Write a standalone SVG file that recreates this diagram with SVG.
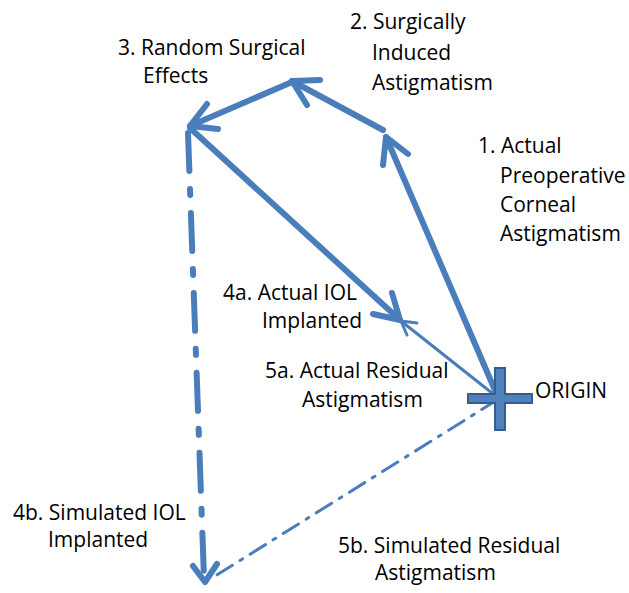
<svg xmlns="http://www.w3.org/2000/svg" width="629" height="593" viewBox="0 0 629 593">
<style>
.t{font-family:"Open Sans","Liberation Sans",sans-serif;font-size:21px;fill:#000}
.thick{stroke:#4a7ebb;stroke-width:6;fill:none;stroke-linecap:round;stroke-linejoin:round}
.thin{stroke:#4a7ebb;stroke-width:3;fill:none;stroke-linecap:round;stroke-linejoin:round}
</style>
<rect width="629" height="593" fill="#fff"/>
<g id="connectors">
<g id="e1"><line class="thick" x1="497" y1="395" x2="386" y2="137"/><polyline class="thick" points="383,165 386,137 408,154"/></g>
<g id="e2"><line class="thick" x1="383" y1="130" x2="292" y2="81"/><polyline class="thick" points="307,105 292,81 320,80"/></g>
<g id="e3"><line class="thick" x1="292" y1="82" x2="190" y2="126"/><polyline class="thick" points="207,104 190,126 218,129"/></g>
<g id="e4a"><line class="thick" x1="190" y1="128" x2="400" y2="320"/><polyline class="thick" points="392,293 400,320 373,314"/></g>
<g id="e5a"><line class="thin" x1="497" y1="397" x2="401" y2="321"/><polyline class="thin" points="407,335 401,321 417,323"/></g>
<g id="e4b"><line class="thick" x1="188" y1="133" x2="204" y2="578" stroke-dasharray="38 18 6 18" stroke-linecap="butt"/><polyline class="thick" points="193,566 205,582 217,564"/></g>
<g id="e5b"><line class="thin" x1="497" y1="400" x2="212" y2="578" stroke-dasharray="18 9 3 9" stroke-linecap="butt"/></g>
</g>
<g id="origin">
<path d="M495,368 h10 v26 h27 v9 h-27 v27 h-10 v-27 h-27 v-9 h27 z" fill="#4f81bd" stroke="#385d8a" stroke-width="2"/>
<text class="t" x="535" y="398">ORIGIN</text>
</g>
<g id="n1"><text class="t" x="478" y="153">1. Actual</text><text class="t" x="500" y="183">Preoperative</text><text class="t" x="500" y="212">Corneal</text><text class="t" x="500" y="241">Astigmatism</text></g>
<g id="n2"><text class="t" x="350" y="29">2. Surgically</text><text class="t" x="372" y="60">Induced</text><text class="t" x="372" y="90">Astigmatism</text></g>
<g id="n3"><text class="t" x="118" y="55">3. Random Surgical</text><text class="t" x="143" y="83">Effects</text></g>
<g id="n4a"><text class="t" x="223" y="300">4a. Actual IOL</text><text class="t" x="262" y="328">Implanted</text></g>
<g id="n5a"><text class="t" x="265" y="378">5a. Actual Residual</text><text class="t" x="302" y="407">Astigmatism</text></g>
<g id="n4b"><text class="t" x="13" y="520">4b. Simulated IOL</text><text class="t" x="48" y="547">Implanted</text></g>
<g id="n5b"><text class="t" x="338" y="553">5b. Simulated Residual</text><text class="t" x="375" y="580">Astigmatism</text></g>
</svg>
